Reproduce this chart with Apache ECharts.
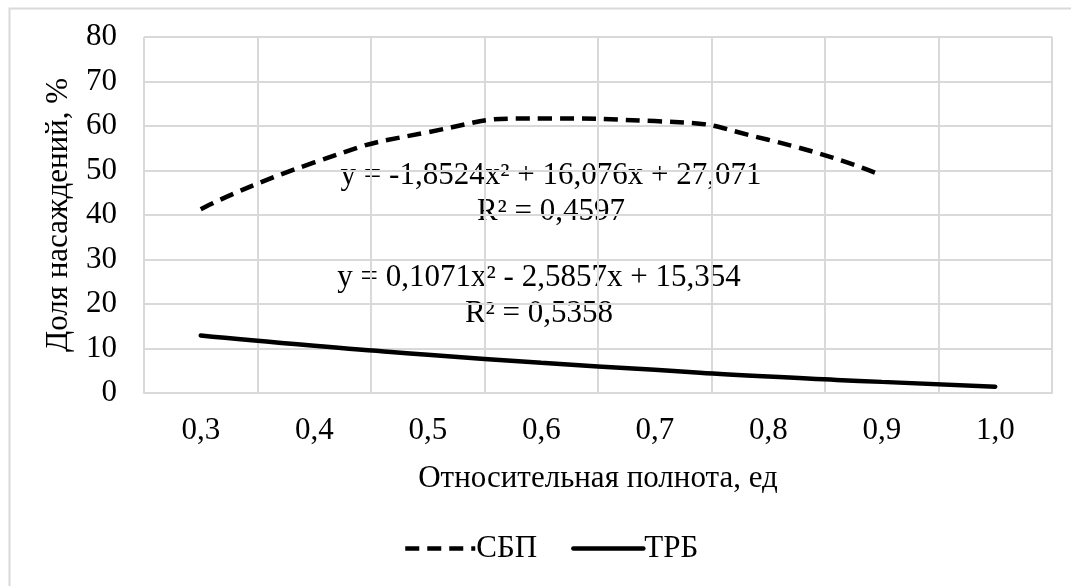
<!DOCTYPE html>
<html>
<head>
<meta charset="utf-8">
<script src="https://cdn.jsdelivr.net/npm/echarts@6/dist/echarts.min.js"></script>
<style>
html,body{margin:0;padding:0;background:#fff;}
#c{width:1071px;height:586px;}
</style>
</head>
<body>
<div id="c"></div>
<script>
const categories = ['0,3','0,4','0,5','0,6','0,7','0,8','0,9','1,0'];
const sbpValues = [41.3, 51.8, 58.6, 61.7, 61.1, 56.9, 48.9, null];
const trbValues = [12.9, 10.6, 8.6, 6.8, 5.2, 3.7, 2.5, 1.4];
const seriesNames = ['СБП', 'ТРБ'];
const eqTexts = [
  'y = -1,8524x² + 16,076x + 27,071',
  'R² = 0,4597',
  'y = 0,1071x² - 2,5857x + 15,354',
  'R² = 0,5358'
];
const xTitle = 'Относительная полнота, ед';
const yTitle = 'Доля насаждений, %';

const FONT = '"Liberation Serif", "Times New Roman", serif';
const FS = 31;
const chart = echarts.init(document.getElementById('c'));
const grid = {left:144, top:37, width:908, height:356};

chart.setOption({
  animation:false,
  backgroundColor:'#fff',
  textStyle:{fontFamily:FONT},
  grid: grid,
  legend:{
    left:398, top:528,
    itemWidth:70, itemHeight:14, itemGap:34,
    itemStyle:{opacity:0},
    lineStyle:{width:4.5},
    textStyle:{fontFamily:FONT, fontSize:FS, color:'#000', padding:[0,0,0,-4]},
    data:seriesNames
  },
  xAxis:{
    type:'category', data:categories, boundaryGap:true,
    name:xTitle, nameLocation:'middle', nameGap:70,
    nameTextStyle:{fontFamily:FONT, fontSize:FS, color:'#000'},
    axisLine:{show:true, lineStyle:{color:'#d9d9d9', width:2}},
    axisTick:{show:false},
    axisLabel:{fontFamily:FONT, fontSize:FS, color:'#000', margin:22},
    splitLine:{show:true, interval:0, lineStyle:{color:'#d9d9d9', width:2}}
  },
  yAxis:{
    type:'value', min:0, max:80, interval:10,
    name:yTitle, nameLocation:'middle', nameGap:70,
    nameTextStyle:{fontFamily:FONT, fontSize:FS, color:'#000'},
    axisLine:{show:false}, axisTick:{show:false},
    axisLabel:{fontFamily:FONT, fontSize:FS, color:'#000', margin:27},
    splitLine:{show:true, lineStyle:{color:'#d9d9d9', width:2}}
  },
  series:[
    {name:seriesNames[0], type:'line', data:sbpValues, smooth:0.6, symbol:'none',
     lineStyle:{color:'#000', width:4.5, type:[14,8]}, itemStyle:{color:'#000'}},
    {name:seriesNames[1], type:'line', data:trbValues, smooth:0.6, symbol:'none',
     lineStyle:{color:'#000', width:4.5, cap:'round'}, itemStyle:{color:'#000'}}
  ],
  graphic:[
    {type:'rect', left:7, top:6, shape:{width:1100, height:620}, silent:true, z:-10,
     style:{fill:'none', stroke:'#d9d9d9', lineWidth:2}},
    {type:'text', x:551, y:176, style:{text:eqTexts[0], font:FS+'px '+FONT, fill:'#000', align:'center', verticalAlign:'middle'}},
    {type:'text', x:551, y:212, style:{text:eqTexts[1], font:FS+'px '+FONT, fill:'#000', align:'center', verticalAlign:'middle'}},
    {type:'text', x:539, y:278, style:{text:eqTexts[2], font:FS+'px '+FONT, fill:'#000', align:'center', verticalAlign:'middle'}},
    {type:'text', x:539, y:314, style:{text:eqTexts[3], font:FS+'px '+FONT, fill:'#000', align:'center', verticalAlign:'middle'}}
  ]
});
</script>
</body>
</html>
